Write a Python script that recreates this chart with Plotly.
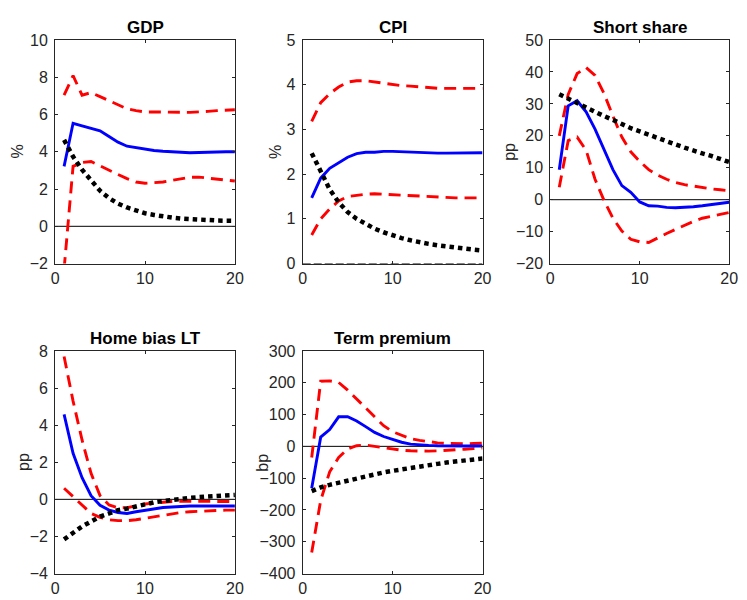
import plotly.graph_objects as go

horizons = list(range(1, 21))

titles = ["GDP", "CPI", "Short share", "Home bias LT", "Term premium"]
units = ["%", "%", "pp", "pp", "bp"]

gdp_median = [3.22, 5.53, 5.39, 5.27, 5.13, 4.82, 4.52, 4.30, 4.21, 4.16, 4.07, 4.03, 4.00, 3.95, 3.95, 3.96, 3.98, 4.00, 4.00, 4.00]
gdp_upper = [7.04, 8.09, 7.04, 7.18, 6.96, 6.73, 6.52, 6.31, 6.21, 6.14, 6.14, 6.12, 6.12, 6.12, 6.12, 6.13, 6.17, 6.21, 6.25, 6.26]
gdp_lower = [-2.3, 3.22, 3.43, 3.48, 3.25, 3.00, 2.78, 2.56, 2.38, 2.31, 2.33, 2.38, 2.47, 2.56, 2.63, 2.64, 2.59, 2.52, 2.47, 2.43]
gdp_model = [4.64, 3.74, 3.04, 2.43, 1.91, 1.51, 1.22, 1.01, 0.85, 0.70, 0.61, 0.52, 0.47, 0.42, 0.38, 0.35, 0.33, 0.31, 0.30, 0.30]

cpi_median = [1.47, 1.91, 2.13, 2.25, 2.38, 2.46, 2.49, 2.49, 2.51, 2.51, 2.50, 2.49, 2.48, 2.48, 2.47, 2.47, 2.47, 2.48, 2.48, 2.48]
cpi_upper = [3.18, 3.60, 3.80, 3.95, 4.06, 4.09, 4.09, 4.06, 4.03, 4.00, 3.98, 3.97, 3.95, 3.93, 3.92, 3.92, 3.92, 3.92, 3.92, 3.92]
cpi_lower = [0.64, 1.00, 1.22, 1.40, 1.50, 1.53, 1.55, 1.56, 1.55, 1.54, 1.53, 1.52, 1.50, 1.49, 1.48, 1.48, 1.47, 1.47, 1.47, 1.47]
cpi_model = [2.47, 2.06, 1.66, 1.37, 1.15, 1.00, 0.89, 0.78, 0.70, 0.63, 0.57, 0.52, 0.47, 0.44, 0.41, 0.38, 0.35, 0.33, 0.31, 0.29]

short_median = [9.4, 29.4, 31.0, 27.5, 22.1, 15.5, 9.4, 4.4, 2.3, -0.7, -1.9, -2.0, -2.4, -2.5, -2.4, -2.2, -1.9, -1.6, -1.3, -0.8]
short_upper = [20.0, 33.0, 39.5, 41.4, 38.9, 33.3, 26.2, 19.6, 15.0, 12.0, 9.4, 7.7, 6.4, 5.4, 4.7, 4.2, 3.8, 3.4, 3.1, 2.8]
short_lower = [3.9, 18.5, 19.6, 15.5, 6.4, -0.2, -5.8, -9.8, -12.4, -13.2, -13.4, -11.9, -10.6, -9.3, -8.0, -6.8, -5.8, -5.1, -4.6, -4.0]
short_model = [33.0, 31.6, 30.2, 28.7, 27.5, 26.2, 25.0, 23.6, 22.4, 21.4, 20.3, 19.3, 18.4, 17.3, 16.3, 15.3, 14.5, 13.7, 12.8, 11.8]

home_median = [4.58, 2.48, 1.17, 0.20, -0.32, -0.58, -0.71, -0.76, -0.67, -0.58, -0.50, -0.44, -0.41, -0.37, -0.36, -0.36, -0.36, -0.36, -0.36, -0.36]
home_upper = [7.70, 5.30, 3.20, 1.40, 0.20, -0.30, -0.45, -0.45, -0.35, -0.25, -0.20, -0.15, -0.12, -0.10, -0.10, -0.10, -0.10, -0.12, -0.12, -0.12]
home_lower = [0.60, 0.15, -0.32, -0.76, -0.97, -1.10, -1.15, -1.15, -1.10, -1.02, -0.93, -0.85, -0.76, -0.71, -0.67, -0.64, -0.62, -0.60, -0.58, -0.58]
home_model = [-2.16, -1.80, -1.46, -1.20, -0.93, -0.76, -0.58, -0.50, -0.37, -0.27, -0.16, -0.09, -0.02, 0.03, 0.08, 0.12, 0.15, 0.19, 0.20, 0.24]

term_median = [-132, 29, 53, 93, 93, 80, 62, 44, 31, 21, 13, 7, 4, 3, 2, 1, 1, 1, 1, 1]
term_upper = [-35, 205, 206, 201, 177, 149, 121, 90, 65, 46, 34, 24, 19, 14, 11, 9, 8, 8, 9, 10]
term_lower = [-334, -170, -80, -35, -8, 2, 4, 0, -4, -9, -12, -14, -15, -15, -14, -13, -11, -9, -7, -5]
term_model = [-141, -129, -121, -114, -107, -100, -93, -87, -82, -77, -72, -68, -63, -59, -55, -51, -48, -45, -42, -38]

y_ranges = [[-2, 10], [0, 5], [-20, 50], [-4, 8], [-400, 300]]
y_dticks = [2, 1, 10, 2, 100]
x_ticks = [0, 10, 20]
zero_x = [0, 20]
zero_y = [0, 0]

panels = [
    (gdp_median, gdp_upper, gdp_lower, gdp_model),
    (cpi_median, cpi_upper, cpi_lower, cpi_model),
    (short_median, short_upper, short_lower, short_model),
    (home_median, home_upper, home_lower, home_model),
    (term_median, term_upper, term_lower, term_model),
]

W, H = 747, 600
col_px = [(52, 235), (304, 487), (556, 738)]
row_px = [(33, 263), (353, 582)]
ylabel_px = [14, 277, 515, 20, 263]

AX = "rgb(38,38,38)"
FONT = "Liberation Sans, Arial, sans-serif"
TICK_SIZE = 16
TITLE_SIZE = 17

fig = go.Figure()
layout = dict(
    width=W, height=H,
    margin=dict(l=0, r=0, t=0, b=0),
    paper_bgcolor="white", plot_bgcolor="white",
    showlegend=False,
    font=dict(family=FONT, size=TICK_SIZE, color=AX),
)
annotations = []

for i, (med, up, lo, mod) in enumerate(panels):
    r, c = divmod(i, 3)
    n = i + 1
    xa = "x" if n == 1 else f"x{n}"
    ya = "y" if n == 1 else f"y{n}"
    x0, x1 = col_px[c]
    y0, y1 = row_px[r]
    xd = [x0 / W, x1 / W]
    yd = [1 - y1 / H, 1 - y0 / H]

    zdash = "8px,3px" if i == 1 else "solid"
    fig.add_trace(go.Scatter(x=zero_x, y=zero_y, mode="lines", xaxis=xa, yaxis=ya,
                             line=dict(color="black", width=1, dash=zdash), hoverinfo="skip"))
    fig.add_trace(go.Scatter(x=horizons, y=up, mode="lines", xaxis=xa, yaxis=ya,
                             line=dict(color="red", width=2.9, dash="12px,7px")))
    fig.add_trace(go.Scatter(x=horizons, y=lo, mode="lines", xaxis=xa, yaxis=ya,
                             line=dict(color="red", width=2.9, dash="12px,7px")))
    fig.add_trace(go.Scatter(x=horizons, y=med, mode="lines", xaxis=xa, yaxis=ya,
                             line=dict(color="blue", width=2.9)))
    fig.add_trace(go.Scatter(x=horizons, y=mod, mode="lines", xaxis=xa, yaxis=ya,
                             line=dict(color="black", width=4.5, dash="4.5px,4px")))

    axcommon = dict(showline=True, linecolor=AX, linewidth=1, mirror="ticks",
                    ticks="inside", ticklen=3, tickwidth=1, tickcolor=AX,
                    showgrid=False, zeroline=False,
                    tickfont=dict(family=FONT, size=TICK_SIZE, color=AX))
    layout["xaxis" if n == 1 else f"xaxis{n}"] = dict(
        domain=xd, anchor=ya, range=[0, 20], tickvals=x_ticks, **axcommon)
    layout["yaxis" if n == 1 else f"yaxis{n}"] = dict(
        domain=yd, anchor=xa, range=y_ranges[i], dtick=y_dticks[i],
        tick0=y_ranges[i][0], ticklabelstandoff=3, **axcommon)

    annotations.append(dict(text=f"<b>{titles[i]}</b>", x=(x0 + x1) / 2 / W, y=yd[1],
                            xref="paper", yref="paper", xanchor="center", yanchor="bottom",
                            yshift=1, showarrow=False,
                            font=dict(family=FONT, size=TITLE_SIZE, color="black")))
    annotations.append(dict(text=units[i], x=ylabel_px[i] / W, y=(yd[0] + yd[1]) / 2,
                            xref="paper", yref="paper", xanchor="center", yanchor="middle",
                            textangle=-90, showarrow=False,
                            font=dict(family=FONT, size=TICK_SIZE, color=AX)))

layout["annotations"] = annotations
fig.update_layout(**layout)
fig.write_html("out.html")
